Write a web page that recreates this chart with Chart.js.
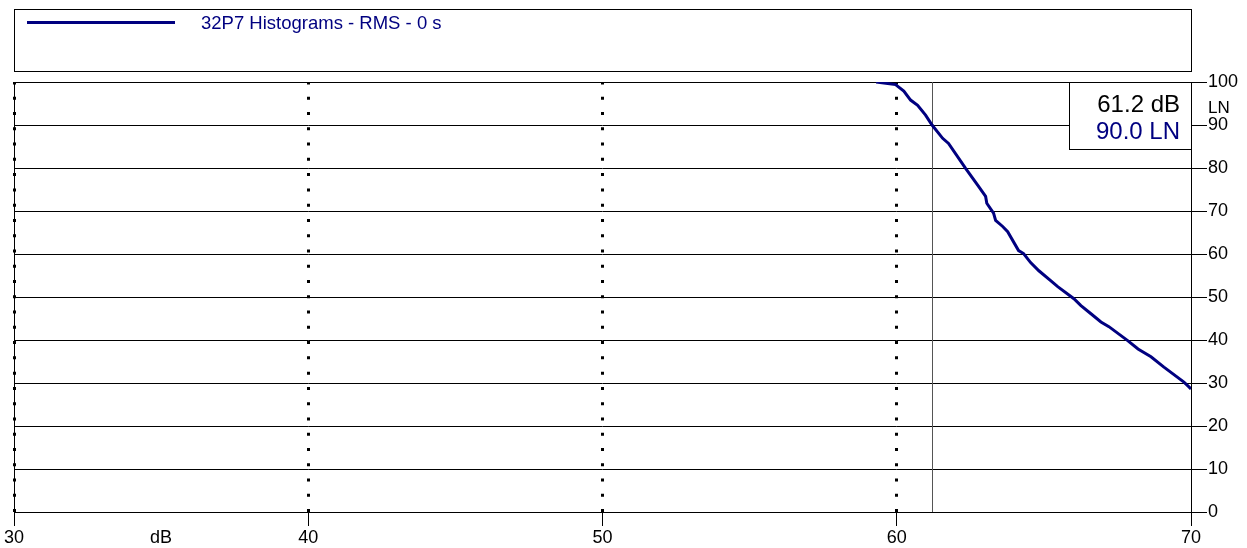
<!DOCTYPE html>
<html>
<head>
<meta charset="utf-8">
<script src="https://cdn.jsdelivr.net/npm/chart.js@4/dist/chart.umd.min.js"></script>
<style>
  html, body { margin: 0; padding: 0; background: #fff; }
  #wrap { width: 1247px; height: 548px; position: relative; }
</style>
</head>
<body>
<div id="wrap"><canvas id="c"></canvas></div>
<script>
const seriesName = "32P7 Histograms - RMS - 0 s";
const levelsDb = [59.3, 59.96, 60.24, 60.47, 60.71, 60.98, 61.2, 61.56, 61.76, 62.34, 62.75, 63.02, 63.06, 63.29, 63.36, 63.6, 63.77, 64.14, 64.31, 64.55, 64.83, 65.23, 65.47, 66.02, 66.26, 66.6, 66.94, 67.21, 67.86, 68.2, 68.64, 69.08, 69.76, 69.93, 70.0];
const percentLN = [100, 99.4, 97.9, 95.8, 94.6, 92.3, 90.0, 86.9, 85.7, 79.9, 76.0, 73.4, 71.8, 69.5, 67.8, 66.4, 65.2, 60.8, 60.1, 58.0, 56.1, 53.8, 52.4, 49.6, 48.0, 46.1, 44.2, 43.1, 39.8, 37.9, 36.1, 33.7, 30.2, 29.1, 28.6];
const xTicks = [30, 40, 50, 60, 70];
const yTicks = [0, 10, 20, 30, 40, 50, 60, 70, 80, 90, 100];
const cursorDb = 61.2;
const cursorLN = 90.0;
const xUnit = "dB";
const yUnit = "LN";

const NAVY = '#000080';
const FONT = '"Liberation Sans", Arial, sans-serif';

const overlay = {
  id: 'overlay',
  beforeDatasetsDraw(chart) {
    const ctx = chart.ctx, a = chart.chartArea;
    const xs = chart.scales.x;
    ctx.save();
    ctx.strokeStyle = '#000';
    ctx.lineWidth = 1;
    ctx.beginPath();
    ctx.moveTo(a.left + 0.5, a.top);
    ctx.lineTo(a.left + 0.5, a.bottom);
    ctx.stroke();
    const cx = Math.round(xs.getPixelForValue(cursorDb)) + 0.5;
    ctx.strokeStyle = '#555';
    ctx.beginPath();
    ctx.moveTo(cx, a.top);
    ctx.lineTo(cx, a.bottom);
    ctx.stroke();
    ctx.restore();
  },
  afterDraw(chart) {
    const ctx = chart.ctx, a = chart.chartArea;
    ctx.save();
    ctx.strokeStyle = '#000';
    ctx.lineWidth = 1;
    ctx.strokeRect(14.5, 9.5, a.right - 14, 62);
    ctx.strokeStyle = NAVY;
    ctx.lineWidth = 3;
    ctx.beginPath();
    ctx.moveTo(27, 22.5);
    ctx.lineTo(175, 22.5);
    ctx.stroke();
    ctx.fillStyle = NAVY;
    ctx.font = '18.5px ' + FONT;
    ctx.textBaseline = 'alphabetic';
    ctx.textAlign = 'left';
    ctx.fillText(seriesName, 201, 28.5);
    const bx = 1069.5, by = a.top + 0.5, bw = a.right - 1069, bh = 67;
    ctx.fillStyle = '#fff';
    ctx.fillRect(bx, by, bw, bh);
    ctx.strokeStyle = '#000';
    ctx.lineWidth = 1;
    ctx.strokeRect(bx, by, bw, bh);
    ctx.font = '24px ' + FONT;
    ctx.textAlign = 'right';
    ctx.textBaseline = 'alphabetic';
    ctx.fillStyle = '#000';
    ctx.fillText(cursorDb.toFixed(1) + ' ' + xUnit, 1180, 111.5);
    ctx.fillStyle = NAVY;
    ctx.fillText(cursorLN.toFixed(1) + ' ' + yUnit, 1180, 138.5);
    ctx.fillStyle = '#000';
    ctx.font = '17px ' + FONT;
    ctx.textAlign = 'left';
    ctx.fillText(yUnit, 1208, 112.5);
    ctx.textAlign = 'center';
    ctx.textBaseline = 'middle';
    ctx.font = '18px ' + FONT;
    ctx.fillText(xUnit, 161, 538);
    ctx.restore();
  }
};

new Chart(document.getElementById('c'), {
  type: 'line',
  data: {
    datasets: [{
      label: seriesName,
      data: levelsDb.map((v, i) => ({ x: v, y: percentLN[i] })),
      borderColor: NAVY,
      borderWidth: 3,
      pointRadius: 0,
      tension: 0,
      fill: false
    }]
  },
  options: {
    responsive: true,
    maintainAspectRatio: false,
    animation: false,
    events: [],
    layout: { padding: { left: 14, top: 82, right: 0, bottom: 0 } },
    plugins: { legend: { display: false }, tooltip: { enabled: false } },
    scales: {
      x: {
        type: 'linear',
        position: 'bottom',
        min: xTicks[0],
        max: xTicks[xTicks.length - 1],
        afterBuildTicks(s) { s.ticks = xTicks.map(v => ({ value: v })); },
        afterFit(s) { s.height = 36; },
        ticks: { color: '#000', font: { size: 18, family: FONT }, padding: 1, maxRotation: 0 },
        grid: {
          color: (c) => (c.tick && c.tick.value === 70) ? 'rgba(0,0,0,0)' : '#000',
          lineWidth: 3,
          tickBorderDash: [],
          tickColor: '#000',
          tickWidth: 1,
          tickLength: 14
        },
        border: { display: true, color: '#000', width: 1, dash: [3, 12.27], dashOffset: 0.5 }
      },
      y: {
        type: 'linear',
        position: 'right',
        min: yTicks[0],
        max: yTicks[yTicks.length - 1],
        afterBuildTicks(s) { s.ticks = yTicks.map(v => ({ value: v })); },
        afterFit(s) { s.width = 56; },
        ticks: { color: '#000', font: { size: 18, family: FONT }, padding: 1 },
        grid: {
          color: '#000',
          lineWidth: 1,
          tickLength: 16
        },
        border: { display: true, color: '#000', width: 1 }
      }
    }
  },
  plugins: [overlay]
});
</script>
</body>
</html>
